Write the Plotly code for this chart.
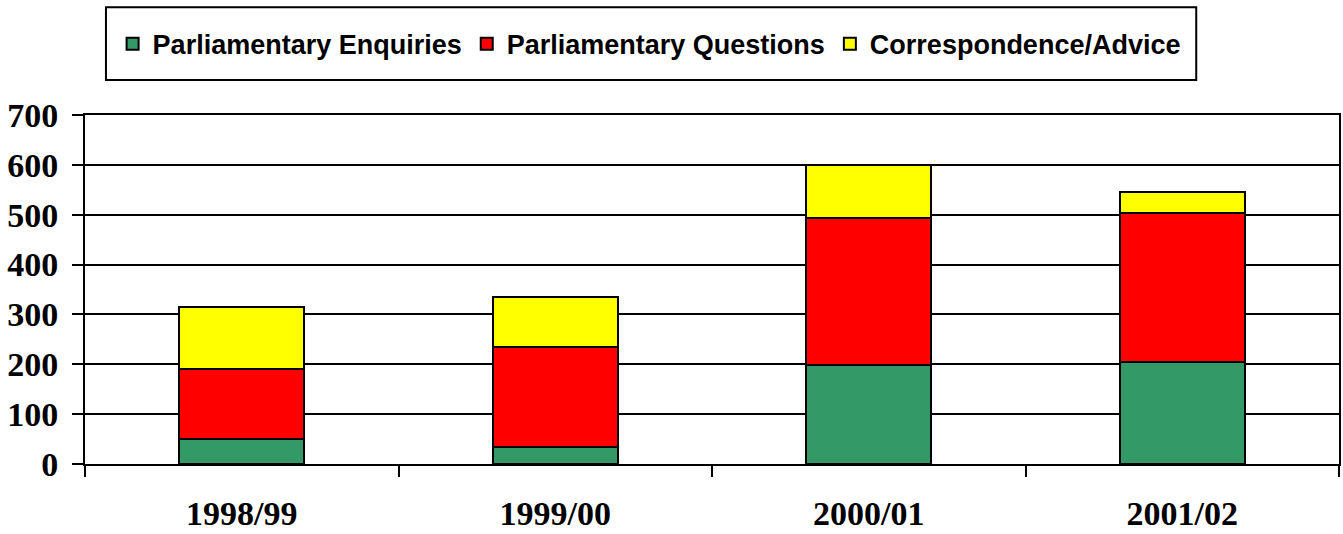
import plotly.graph_objects as go

categories = ["1998/99", "1999/00", "2000/01", "2001/02"]
enquiries = [50, 35, 198, 204]
questions = [140, 199, 295, 299]
correspondence = [125, 101, 107, 42]
series_names = ["Parliamentary Enquiries", "Parliamentary Questions", "Correspondence/Advice"]
y_ticks = [0, 100, 200, 300, 400, 500, 600, 700]

colors = ["#339966", "#FF0000", "#FFFF00"]

W, H = 1343, 534
ML, MR, MT, MB = 85, 2, 115, 69
pw, ph = W - ML - MR, H - MT - MB

def px_x(px):
    return (px - ML) / pw

def px_y(py):
    return (H - MB - py) / ph

fig = go.Figure()
for name, vals, col in zip(series_names, [enquiries, questions, correspondence], colors):
    fig.add_trace(go.Bar(
        x=categories, y=vals, name=name,
        marker=dict(color=col, line=dict(color="black", width=2)),
    ))

serif = "Liberation Serif, Times New Roman, serif"
sans = "Liberation Sans, Arial, sans-serif"

fig.update_layout(
    width=W, height=H,
    margin=dict(l=ML, r=MR, t=MT, b=MB, pad=0),
    barmode="stack",
    bargap=0.6,
    plot_bgcolor="white",
    paper_bgcolor="white",
    showlegend=True,
    legend=dict(
        orientation="h",
        x=px_x(650), xanchor="center",
        y=px_y(44), yanchor="middle",
        font=dict(family=sans, size=27, color="black", weight="bold"),
        bgcolor="rgba(0,0,0,0)",
        borderwidth=0,
        traceorder="normal",
        itemclick=False,
    ),
    shapes=[dict(
        type="rect", xref="paper", yref="paper",
        x0=px_x(106), x1=px_x(1198), y0=px_y(80), y1=px_y(7),
        line=dict(color="black", width=2), fillcolor="rgba(0,0,0,0)",
    )],
)

fig.update_xaxes(
    type="category",
    showline=True, linecolor="black", linewidth=2, mirror=True,
    ticks="outside", tickson="boundaries", ticklen=11, tickwidth=2, tickcolor="black",
    showgrid=False,
    tickfont=dict(family=serif, size=34, color="black", weight="bold"),
    ticklabelstandoff=18,
)
fig.update_yaxes(
    range=[0, 700], tickvals=y_ticks,
    showline=True, linecolor="black", linewidth=2, mirror=True,
    ticks="outside", ticklen=11, tickwidth=2, tickcolor="black",
    showgrid=True, gridcolor="black", gridwidth=2,
    zeroline=False,
    tickfont=dict(family=serif, size=34, color="black", weight="bold"),
    ticklabelstandoff=7,
)

fig.write_html("out.html")
